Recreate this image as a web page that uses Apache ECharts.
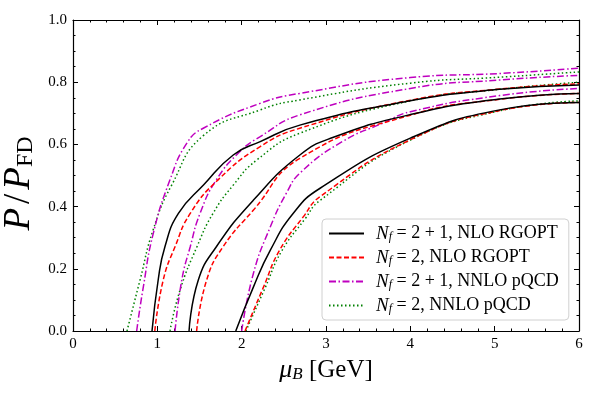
<!DOCTYPE html>
<html>
<head>
<meta charset="utf-8">
<script src="https://cdn.jsdelivr.net/npm/echarts@6/dist/echarts.min.js"></script>
<style>
  html, body { margin: 0; padding: 0; background: #fff; }
  #chart { width: 598px; height: 399px; }
</style>
</head>
<body>
<div id="chart"></div>
<script>
// curves, [muB, P/PFD]
var nlo21A = [[0.937,0],[1.01,0.164],[1.09,0.271],[1.25,0.378],[1.55,0.47],[1.9,0.566],[2.22,0.609],[2.69,0.662],[4.0,0.74],[5.06,0.777],[6,0.791]];
var nlo21B = [[1.376,0],[1.486,0.164],[1.70,0.271],[2.14,0.421],[2.69,0.566],[3.08,0.622],[4.0,0.696],[5.06,0.746],[6,0.764]];
var nlo21C = [[1.93,0],[2.14,0.142],[2.34,0.26],[2.61,0.378],[2.93,0.459],[4.0,0.62],[5.06,0.711],[6,0.735]];

var nlo2A = [[0.97,0],[1.07,0.164],[1.21,0.271],[1.39,0.378],[1.72,0.486],[2.22,0.593],[2.69,0.652],[4.0,0.742],[5.06,0.778],[6,0.795]];
var nlo2B = [[1.466,0],[1.585,0.164],[1.78,0.271],[2.14,0.389],[2.69,0.555],[4.0,0.694],[5.06,0.745],[6,0.764]];
var nlo2C = [[2.04,0],[2.26,0.142],[2.45,0.26],[2.73,0.367],[2.93,0.432],[4.0,0.615],[5.06,0.709],[6,0.735]];

var nnlo21A = [[0.755,0],[0.834,0.142],[0.952,0.314],[1.15,0.486],[1.35,0.604],[1.545,0.652],[2.22,0.732],[2.69,0.764],[4.0,0.815],[5.06,0.828],[6,0.845]];
var nnlo21B = [[1.21,0],[1.29,0.164],[1.39,0.271],[1.506,0.378],[1.70,0.486],[1.98,0.577],[2.22,0.625],[2.69,0.695],[4.0,0.78],[5.06,0.807],[6,0.822]];
var nnlo21C = [[2.0,0],[2.14,0.186],[2.34,0.335],[2.53,0.443],[2.7,0.51],[3.2,0.61],[3.68,0.669],[4.0,0.705],[5.06,0.757],[6,0.78]];

var nnlo2A = [[0.64,0],[0.795,0.164],[0.95,0.325],[1.17,0.469],[1.545,0.628],[2.22,0.711],[2.69,0.743],[4.0,0.797],[5.06,0.816],[6,0.833]];
var nnlo2B = [[1.15,0],[1.27,0.132],[1.47,0.271],[1.66,0.378],[1.90,0.469],[2.18,0.55],[2.69,0.636],[4.0,0.74],[5.06,0.777],[6,0.80]];
var nnlo2C = [[2.05,0],[2.28,0.14],[2.47,0.255],[2.75,0.36],[2.93,0.42],[4.0,0.614],[5.06,0.708],[6,0.74]];

var seriesNames = ['Nf=2+1, NLO RGOPT', 'Nf=2, NLO RGOPT', 'Nf=2+1, NNLO pQCD', 'Nf=2, NNLO pQCD'];
var legendText = {
  'Nf=2+1, NLO RGOPT': '{i|N}{s|f}{r| = 2 + 1, NLO RGOPT}',
  'Nf=2, NLO RGOPT': '{i|N}{s|f}{r| = 2, NLO RGOPT}',
  'Nf=2+1, NNLO pQCD': '{i|N}{s|f}{r| = 2 + 1, NNLO pQCD}',
  'Nf=2, NNLO pQCD': '{i|N}{s|f}{r| = 2, NNLO pQCD}'
};

var font = 'Liberation Serif';
var styles = [
  {color: '#000000', type: 'solid'},
  {color: '#ff0000', type: [5, 2.5]},
  {color: '#bf00bf', type: [7, 2.5, 1.5, 2.5]},
  {color: '#008000', type: [1.5, 2.5]}
];

function makeSeries(name, idx, data) {
  return {
    name: name,
    type: 'line',
    data: data,
    showSymbol: false,
    symbol: 'none',
    smooth: 0.5,
    lineStyle: {color: styles[idx].color, type: styles[idx].type, width: 1.5},
    itemStyle: {color: styles[idx].color},
    animation: false,
    z: 4 - idx
  };
}

var groups = [
  [nlo21A, nlo21B, nlo21C],
  [nlo2A, nlo2B, nlo2C],
  [nnlo21A, nnlo21B, nnlo21C],
  [nnlo2A, nnlo2B, nnlo2C]
];
var series = [];
groups.forEach(function (g, i) {
  g.forEach(function (d) { series.push(makeSeries(seriesNames[i], i, d)); });
});

var tickStyle = {color: '#000', width: 1};
function xAx(pos, show) {
  return {
    type: 'value', position: pos, min: 0, max: 6, interval: 1,
    axisLine: {show: true, onZero: false, lineStyle: {color: '#000', width: 1.2}},
    axisTick: {show: true, inside: true, length: 5, lineStyle: tickStyle},
    minorTick: {show: true, splitNumber: 5, length: 2.5, lineStyle: tickStyle},
    splitLine: {show: false},
    axisLabel: {show: show, margin: 6, fontFamily: font, fontSize: 15, color: '#000'},
    name: show ? '{m|μ}{b|B}{r| [GeV]}' : '',
    nameLocation: 'middle', nameGap: 26,
    nameTextStyle: {
      fontFamily: font, color: '#000',
      rich: {
        m: {fontFamily: font, fontStyle: 'italic', fontSize: 26, color: '#000'},
        b: {fontFamily: font, fontStyle: 'italic', fontSize: 17, color: '#000', verticalAlign: 'bottom', lineHeight: 14},
        r: {fontFamily: font, fontSize: 25, color: '#000'}
      }
    }
  };
}
function yAx(pos, show) {
  return {
    type: 'value', position: pos, min: 0, max: 1, interval: 0.2,
    axisLine: {show: true, onZero: false, lineStyle: {color: '#000', width: 1.2}},
    axisTick: {show: true, inside: true, length: 5, lineStyle: tickStyle},
    minorTick: {show: true, splitNumber: 4, length: 2.5, lineStyle: tickStyle},
    splitLine: {show: false},
    axisLabel: {
      show: show, margin: 6, fontFamily: font, fontSize: 15, color: '#000',
      formatter: function (v) { return v.toFixed(1); }
    },
    name: show ? '{p|P}{r|/}{p|P}{s|FD}' : '',
    nameLocation: 'middle', nameGap: 31, nameRotate: 90,
    nameTextStyle: {
      fontFamily: font, color: '#000', padding: [0, 16, 0, 0],
      rich: {
        p: {fontFamily: font, fontStyle: 'italic', fontSize: 37, color: '#000'},
        r: {fontFamily: font, fontSize: 37, color: '#000', padding: [0, 4, 0, 4]},
        s: {fontFamily: font, fontSize: 24, color: '#000', verticalAlign: 'bottom', lineHeight: 16}
      }
    }
  };
}

var chart = echarts.init(document.getElementById('chart'), null, {renderer: 'canvas'});
chart.setOption({
  backgroundColor: '#fff',
  animation: false,
  grid: {left: 73, right: 19, top: 20, bottom: 68, containLabel: false, outerBoundsMode: 'none'},
  xAxis: [xAx('bottom', true), xAx('top', false)],
  yAxis: [yAx('left', true), yAx('right', false)],
  legend: {
    show: true,
    data: seriesNames,
    orient: 'vertical',
    left: 322, top: 219,
    padding: [5, 10, 5, 6],
    itemWidth: 35, itemHeight: 14, itemGap: 5,
    backgroundColor: 'rgba(255,255,255,0.85)',
    borderColor: '#d0d0d0', borderWidth: 1, borderRadius: 4,
    itemStyle: {opacity: 0},
    formatter: function (name) { return legendText[name]; },
    textStyle: {
      fontFamily: font, fontSize: 18, color: '#000',
      rich: {
        i: {fontFamily: font, fontStyle: 'italic', fontSize: 19, color: '#000', padding: [0, 0, 0, 7]},
        s: {fontFamily: font, fontStyle: 'italic', fontSize: 12, color: '#000', verticalAlign: 'bottom', lineHeight: 11},
        r: {fontFamily: font, fontSize: 18, color: '#000'}
      }
    }
  },
  series: series
});
</script>
</body>
</html>
